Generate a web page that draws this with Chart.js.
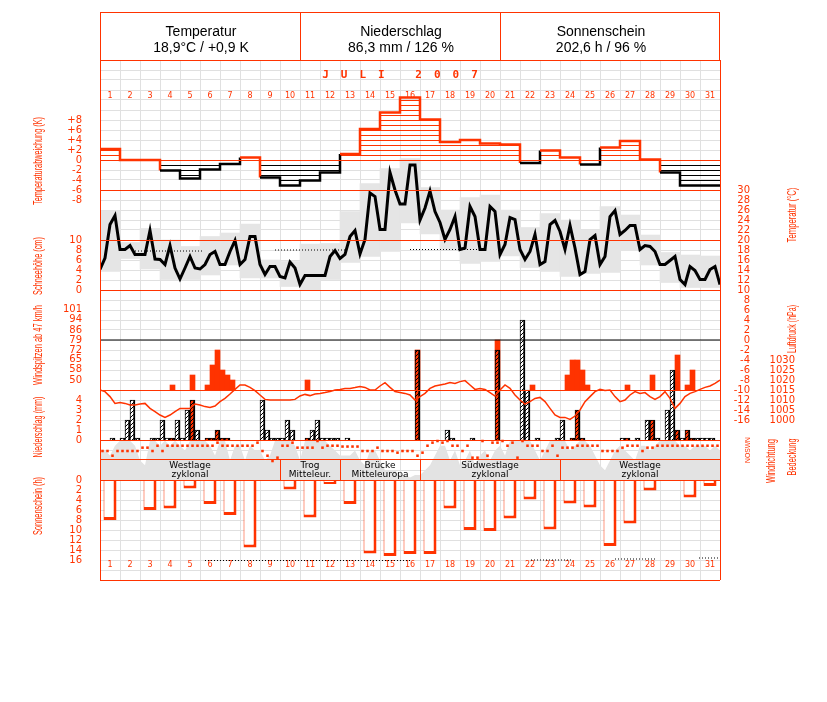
<!DOCTYPE html>
<html>
<head>
<meta charset="utf-8">
<script src="https://cdn.jsdelivr.net/npm/chart.js@4.4.1/dist/chart.umd.min.js"></script>
<style>
  body { margin: 0; background: #fff; }
  #wrap { position: relative; width: 827px; height: 702px; overflow: hidden; }
  #c { position: absolute; left: 0; top: 0; }
  .head { position: absolute; left: 100px; top: 12px; width: 620px; height: 48px; box-sizing: border-box;
          border: 1px solid #ff3300; border-bottom: none; }
  .cell { position: absolute; top: 0; width: 200px; height: 47px; text-align: center;
          font: 14px "Liberation Sans", Arial, sans-serif; line-height: 16px;
          padding-top: 10px; box-sizing: border-box; color: #000; }
  .sep { position: absolute; top: 0; width: 1px; height: 48px; background: #ff3300; }
  .title { position: absolute; left: 100px; top: 68px; width: 620px; text-align: center; color: #ff3300;
           font: bold 11px "DejaVu Sans Mono", monospace; letter-spacing: 12px; padding-right: 8px; box-sizing: border-box; }
  .vl { position: absolute; color: #ff3300; white-space: nowrap; line-height: 1; font-family: "Liberation Sans", Arial, sans-serif; }
</style>
</head>
<body>
<div id="wrap">
  <canvas id="c" width="827" height="702"></canvas>
  <div class="head">
    <div class="cell" style="left:0">Temperatur<br>18,9°C / +0,9 K</div>
    <div class="cell" style="left:200px">Niederschlag<br>86,3 mm / 126 %</div>
    <div class="cell" style="left:400px">Sonnenschein<br>202,6 h / 96 %</div>
    <div class="sep" style="left:199px"></div>
    <div class="sep" style="left:399px"></div>
  </div>
  <div class="title">JULI 2007</div>
</div>
<script>
const RED = '#ff3300';
const GRID = '#e0e0e0';

// ---------- data ----------
const DAYS = [1,2,3,4,5,6,7,8,9,10,11,12,13,14,15,16,17,18,19,20,21,22,23,24,25,26,27,28,29,30,31];

// daily temperature anomaly (K)
const ANOM = [2.2,0,0,-2.1,-3.7,-1.9,-0.8,0.5,-3.5,-5.1,-4.1,-2.5,1.2,6.2,9.5,12.5,
              8.1,3.6,4.0,3.3,3.1,-0.6,1.9,0.5,-0.9,2.5,3.8,0.1,-2.5,-5.1,-5.1];

// daily max / min temperature (°C)
const TMAX = [25.9,19.5,22.3,20.0,18.7,20.7,21.4,23.2,16.0,15.7,19.2,19.3,25.7,31.3,34.3,36.3,
              30.5,26.0,28.5,29.0,26.0,22.5,25.3,24.0,22.0,26.7,25.0,21.0,17.5,17.0,16.8];
const TMIN = [13.7,16.3,14.2,12.1,12.1,13.0,15.0,12.4,12.4,10.7,10.0,12.1,15.5,16.7,17.7,23.4,
              21.2,18.1,15.3,15.7,16.8,14.5,13.7,12.7,13.3,13.5,17.9,15.0,11.5,10.5,10.5];

// 6-hourly temperature (°C), 1st 00h .. 31st 24h
const TEMP6 = [
  14.1,16.4,23.1,24.9,18.1,18.1,18.9,17.1,17.1,17.1,
  21.9,16.2,16.1,15.1,18.9,14.4,12.2,14.4,16.7,14.4,
  14.2,15.1,17.1,17.7,15.1,15.1,17.7,19.9,15.1,16.1,
  20.7,20.7,15.1,13.1,14.7,14.7,12.7,12.4,15.6,14.4,
  11.1,12.9,12.9,12.9,12.9,12.9,16.7,17.9,16.3,17.1,
  20.7,21.9,17.2,20.1,29.4,28.7,22.1,22.1,33.5,30.0,
  27.2,27.2,35.0,35.0,24.0,26.4,29.8,25.7,23.5,20.1,
  22.1,24.7,18.1,18.4,26.7,24.7,18.1,18.1,26.7,25.7,
  17.1,19.1,24.5,24.1,18.1,16.1,17.7,21.1,15.1,15.7,
  23.1,23.9,21.7,18.1,22.9,18.4,13.1,13.7,20.1,20.9,
  15.1,16.7,24.7,25.9,21.1,21.9,22.9,22.9,18.1,18.9,
  18.7,17.7,15.1,15.1,15.9,16.7,12.1,11.1,14.7,13.9,
  12.1,12.1,14.1,14.7,11.1];

// dotted reference segments [from day, to day, value]
const TEMP_DOTS = [[1.75, 5.15, 17.8], [8.75, 12.25, 18.0], [15.5, 18.9, 18.1]];
const SUN_DOTS = [[5.25, 15.5, 16.1], [21.55, 23.6, 16.0], [25.75, 27.8, 15.8], [29.95, 31, 15.6]];

// 6-hourly precipitation (mm)
const PRECIP6 = [
  0,0,0.2,0,0.2,2.0,4.0,0.2,0,0,
  0.2,0.2,2.0,0.2,0.2,2.0,0.2,3.0,4.0,1.0,
  0,0.2,0.2,1.0,0.2,0.2,0,0,0,0,
  0,0,4.0,1.0,0.2,0.2,0.2,2.0,1.0,0,
  0,0.2,1.0,2.0,0.2,0.2,0.2,0.2,0,0.2,
  0,0,0,0,0,0,0,0,0,0,
  0,0,0,9.0,0,0,0,0,0,1.0,
  0.2,0,0,0,0.2,0,0,0,0,9.0,
  0,0,0,0,12.0,5.0,0,0.2,0,0,
  0,0.2,2.0,0,0.2,3.0,0.2,0,0,0,
  0,0,0,0,0.2,0.2,0,0.2,0,2.0,
  2.0,0.2,0,3.0,7.0,1.0,0.2,1.0,0.2,0.2,
  0.2,0.2,0.2,0];

// wind gusts >= 47 km/h: 6-hour slot index and value
const GUST_AT  = [14,18,21,22,23,24,25,26,41,63,79,86,93,94,95,96,97,105,110,115,117,118];
const GUST_KMH = [46.8,54,46.8,61.2,72,57.6,54,50.4,50.4,72,79.2,46.8,54,64.8,64.8,57.6,46.8,46.8,54,68.4,46.8,57.6];
const GUST_BASE = 43.2;
const GUST_LIMIT = 79.2;

// 6-hourly pressure (hPa)
const PRES6 = [
  1015.0,1014.2,1011.7,1008.3,1008.7,1008.3,1007.5,1007.5,1008.0,1008.3,
  1005.8,1004.2,1002.5,1001.3,1002.5,1004.2,1005.8,1005.8,1005.8,1008.0,
  1007.5,1006.7,1006.3,1007.0,1009.2,1010.8,1013.0,1015.3,1017.5,1017.5,
  1016.3,1014.7,1012.5,1010.3,1010.0,1010.0,1010.0,1010.0,1010.0,1010.3,
  1012.0,1012.8,1012.2,1013.0,1013.3,1013.7,1014.2,1015.0,1015.3,1015.8,
  1015.8,1016.2,1016.7,1016.3,1015.0,1015.0,1017.0,1018.7,1016.3,1014.2,
  1013.8,1013.3,1012.5,1010.0,1011.7,1013.3,1015.8,1017.0,1017.5,1018.0,
  1018.7,1018.3,1019.2,1019.7,1017.5,1015.3,1015.8,1015.3,1013.7,1012.0,
  1015.0,1017.5,1015.8,1012.5,1010.0,1008.0,1009.2,1010.8,1011.3,1009.2,
  1005.8,1002.5,1001.3,1001.3,1000.3,1002.0,1005.0,1009.2,1011.7,1014.2,
  1015.3,1014.7,1015.0,1011.7,1009.2,1010.0,1012.5,1014.2,1013.3,1013.7,
  1011.7,1010.3,1011.7,1014.2,1010.8,1005.8,1008.3,1011.7,1013.3,1014.2,
  1015.3,1016.3,1017.0,1018.3,1020.0];

// 6-hourly wind direction (degrees)
const DIR6 = [
  180,180,95,180,180,180,180,180,240,240,
  180,275,180,275,275,275,275,275,275,275,
  275,275,275,330,275,275,275,275,275,275,
  275,330,180,95,0,60,275,275,330,240,
  240,240,240,360,240,275,275,275,260,260,
  260,260,180,180,180,240,180,180,180,150,
  180,180,180,95,150,275,330,360,330,360,
  275,275,180,275,60,60,360,95,330,330,
  360,275,330,60,360,275,275,275,180,180,
  275,95,240,240,240,275,275,275,275,275,
  180,180,180,180,240,275,275,275,180,240,
  240,275,275,275,275,275,275,275,275,275,
  275,275,275,275];

// 6-hourly cloud cover (octas)
const COVER6 = [
  6,6,5,7,8,8,8,7,4,3,
  8,8,7,8,7,8,7,6,8,8,
  8,8,7,5,8,8,4,7,7,4,
  7,6,6,4,5,8,8,8,8,7,
  4,8,8,8,8,8,7,6,5,5,
  5,6,4,3,6,6,4,2,2,2,
  1,1,0.5,1,1,2,3,5,7,7,
  4,6,3,4,6,3,5,6,4,6,
  7,5,8,8,8,8,8,6,4,6,
  8,8,8,8,6,7,8,8,7,5,
  3,2,4,6,7,6,5,4,7,7,
  6,7,8,8,8,8,7,7,6,7,
  7,7,6,7,6];

// daily sunshine (h)
const SUN = [8.0,0,6.0,5.7,1.7,4.8,7.0,13.5,0,1.9,7.5,0.8,4.8,14.7,15.2,14.8,
             14.8,5.7,10.0,10.2,7.7,3.9,9.9,4.7,5.5,13.2,8.7,2.1,0,3.5,1.2];

// weather types
const WX_FROM = [0, 9, 12, 16, 23];
const WX_TO   = [9, 12, 16, 23, 31];
const WX_L1 = ['Westlage', 'Trog', 'Brücke', 'Südwestlage', 'Westlage'];
const WX_L2 = ['zyklonal', 'Mitteleur.', 'Mitteleuropa', 'zyklonal', 'zyklonal'];

// tick labels
const ANOM_TICKS = [8, 6, 4, 2, 0, -2, -4, -6, -8];
const SNOW_TICKS = [10, 8, 6, 4, 2, 0];
const TEMP_TICKS = [30,28,26,24,22,20,18,16,14,12,10,8,6,4,2,0,-2,-4,-6,-8,-10,-12,-14,-16];
const GUST_TICKS = [101, 94, 86, 79, 72, 65, 58, 50];
const PREC_TICKS = [4, 3, 2, 1, 0];
const PRES_TICKS = [1030, 1025, 1020, 1015, 1010, 1005, 1000];
const SUN_TICKS = [0, 2, 4, 6, 8, 10, 12, 14, 16];

// ---------- layout ----------
const TOP = 60, BOTTOM = 580;
const rowOf = y => (BOTTOM - y) / 10;
function band(v0, y0, px) { return { min: v0 - (BOTTOM - y0) / px, max: v0 + (y0 - TOP) / px }; }
function bandRev(v0, y0, px) { return { min: v0 - (y0 - TOP) / px, max: v0 + (BOTTOM - y0) / px, reverse: true }; }
const RED_ROWS = [60, 160, 190, 240, 290, 390, 440, 460, 480, 580].map(rowOf);
const LEFT_AT = -0.9, TEMP_AT = 32.5, PRES_AT = 34.75;
const TICK_FONT = { family: 'DejaVu Sans', size: 10 };
const DAY_FONT = { family: 'DejaVu Sans', size: 8 };

function hatch(line, bg, diag) {
  const c = document.createElement('canvas');
  const g = c.getContext('2d');
  c.width = 4; c.height = diag ? 4 : 5;
  if (bg) { g.fillStyle = bg; g.fillRect(0, 0, c.width, c.height); }
  g.fillStyle = line;
  if (diag) { for (let i = 0; i < 4; i++) g.fillRect(i, 3 - i, 1, 1); }
  else g.fillRect(0, 0, 4, 1);
  return g.createPattern(c, 'repeat');
}

function ticksAxis(range, values, at, fmt) {
  return Object.assign({
    type: 'linear', axis: 'y', position: { x: at },
    afterBuildTicks: ax => { ax.ticks = values.map(v => ({ value: v })); },
    grid: { display: false, drawTicks: false }, border: { display: false },
    ticks: { color: RED, font: TICK_FONT, autoSkip: false, padding: 0, callback: fmt || (v => v) }
  }, range);
}
function hidden(range) { return Object.assign({ type: 'linear', axis: 'y', display: false }, range); }
function dayAxis(row) {
  return {
    type: 'linear', axis: 'x', min: 0, max: 31, offset: false, position: { y: row },
    afterBuildTicks: ax => { ax.ticks = DAYS.map(d => ({ value: d - 0.5 })); },
    grid: { display: false, drawTicks: false }, border: { display: false },
    ticks: { color: RED, font: DAY_FONT, autoSkip: false, padding: 0, minRotation: 0, maxRotation: 0,
             callback: (v, i) => DAYS[i] }
  };
}
function segments(list) {
  const pts = [];
  list.forEach(([a, b, v]) => { pts.push({ x: a, y: v }, { x: b, y: v }, { x: b, y: null }); });
  return pts;
}

const slot = i => i / 4 + 0.125;
const gustFull = PRECIP6.map(() => null);
GUST_AT.forEach((k, i) => { gustFull[k] = GUST_KMH[i]; });

const hatchRed = hatch(RED, null, false);
const hatchBlack = hatch('#000', null, false);
const precWhite = hatch('#000', '#fff', true);
const precRed = hatch('#000', RED, true);

const wxPlugin = {
  id: 'wx',
  afterDraw(chart) {
    const { ctx, scales: { x, y } } = chart;
    const top = y.getPixelForValue(rowOf(460)), bot = y.getPixelForValue(rowOf(480));
    ctx.save();
    ctx.strokeStyle = RED; ctx.lineWidth = 1;
    ctx.fillStyle = '#000'; ctx.font = '9px "DejaVu Sans"';
    ctx.textAlign = 'center'; ctx.textBaseline = 'middle';
    WX_FROM.forEach((a, i) => {
      const x0 = x.getPixelForValue(a), x1 = x.getPixelForValue(WX_TO[i]);
      ctx.beginPath(); ctx.moveTo(Math.round(x1) + 0.5, top); ctx.lineTo(Math.round(x1) + 0.5, bot); ctx.stroke();
      const cx = (x0 + x1) / 2;
      ctx.fillText(WX_L1[i], cx, top + 6);
      ctx.fillText(WX_L2[i], cx, top + 14.5);
    });
    ctx.restore();
  }
};

new Chart(document.getElementById('c'), {
  type: 'line',
  data: {
    datasets: [
      { // cloud cover
        type: 'line', xAxisID: 'x', yAxisID: 'cover', order: 20,
        data: COVER6.map((v, i) => ({ x: i / 4, y: v })),
        borderWidth: 0, pointRadius: 0, fill: 'origin', backgroundColor: '#e3e3e3'
      },
      { // daily temperature range
        type: 'bar', xAxisID: 'x', yAxisID: 'temp', order: 19, grouped: false,
        data: TMAX.map((v, i) => ({ x: i + 0.5, y: [TMIN[i], v] })),
        backgroundColor: '#e5e5e5', barPercentage: 1, categoryPercentage: 1
      },
      { // temperature anomaly
        type: 'line', xAxisID: 'x', yAxisID: 'anom', order: 18,
        data: ANOM.map((v, i) => ({ x: i, y: v })).concat([{ x: ANOM.length, y: ANOM[ANOM.length - 1] }]),
        stepped: true, borderWidth: 2.5, pointRadius: 0, borderColor: RED,
        segment: { borderColor: c => c.p0.parsed.y >= 0 ? RED : '#000' },
        fill: { target: 'origin', above: hatchRed, below: hatchBlack }
      },
      { // gusts
        type: 'bar', xAxisID: 'xq', yAxisID: 'gust', order: 15, grouped: false,
        data: gustFull.map((v, i) => ({ x: slot(i), y: v == null ? null : [GUST_BASE, v] })),
        backgroundColor: RED, barPercentage: 1, categoryPercentage: 1
      },
      { // precipitation
        type: 'bar', xAxisID: 'xq', yAxisID: 'prec', order: 14, grouped: false,
        data: PRECIP6.map((v, i) => ({ x: slot(i), y: v || null })),
        backgroundColor: c => gustFull[c.dataIndex] ? precRed : precWhite,
        borderColor: '#000', borderSkipped: false,
        borderWidth: { left: 1, top: 1, right: 2, bottom: 0 },
        barPercentage: 1, categoryPercentage: 1
      },
      { // storm limit
        type: 'line', xAxisID: 'x', yAxisID: 'gust', order: 13,
        data: [{ x: 0, y: GUST_LIMIT }, { x: 31, y: GUST_LIMIT }],
        borderColor: '#000', borderWidth: 1, pointRadius: 0
      },
      { // pressure
        type: 'line', xAxisID: 'x', yAxisID: 'pres', order: 12,
        data: PRES6.map((v, i) => ({ x: i / 4, y: v })),
        borderColor: RED, borderWidth: 1.5, pointRadius: 0, tension: 0
      },
      { // temperature
        type: 'line', xAxisID: 'x', yAxisID: 'temp', order: 11,
        data: TEMP6.map((v, i) => ({ x: i / 4, y: v })),
        borderColor: '#000', borderWidth: 3, pointRadius: 0, tension: 0
      },
      {
        type: 'line', xAxisID: 'x', yAxisID: 'temp', order: 10,
        data: segments(TEMP_DOTS), borderColor: '#000', borderWidth: 1, borderDash: [1, 2], pointRadius: 0
      },
      { // wind direction
        type: 'line', xAxisID: 'x', yAxisID: 'dir', order: 9, showLine: false,
        data: DIR6.map((v, i) => ({ x: slot(i), y: v })),
        pointStyle: 'rect', pointRadius: 1.8, pointBackgroundColor: RED, pointBorderWidth: 0
      },
      { // sunshine
        type: 'bar', xAxisID: 'x', yAxisID: 'sun', order: 8, grouped: false,
        data: SUN.map((v, i) => ({ x: i + 0.5, y: v || null })),
        backgroundColor: '#fff', borderColor: RED, borderSkipped: false,
        borderWidth: { left: 1, top: 0, right: 3, bottom: 3 },
        barPercentage: 0.65, categoryPercentage: 1
      },
      {
        type: 'line', xAxisID: 'x', yAxisID: 'sun', order: 7,
        data: segments(SUN_DOTS), borderColor: '#000', borderWidth: 1, borderDash: [1, 2], pointRadius: 0
      }
    ]
  },
  options: {
    responsive: false, animation: false, devicePixelRatio: 1, events: [],
    layout: { padding: { left: 100, right: 107, top: TOP, bottom: 702 - BOTTOM } },
    plugins: { legend: { display: false }, tooltip: { enabled: false } },
    scales: {
      x: {
        type: 'linear', axis: 'x', position: 'bottom', min: 0, max: 31, offset: false,
        afterBuildTicks: ax => { ax.ticks = [0, ...DAYS].map(v => ({ value: v })); },
        ticks: { display: false }, grid: { color: GRID, drawTicks: false, offset: false }, border: { display: false }
      },
      xq: { type: 'linear', axis: 'x', display: false, min: 0, max: 31, offset: false, grid: { offset: false } },
      y: {
        type: 'linear', axis: 'y', position: 'left', min: 0, max: 52,
        afterBuildTicks: ax => { ax.ticks = Array.from({ length: 53 }, (_, i) => ({ value: i })); },
        ticks: { display: false }, grid: { color: GRID, drawTicks: false }, border: { display: false }
      },
      xr: {
        type: 'linear', axis: 'x', position: 'bottom', min: 0, max: 31, offset: false, z: 1,
        afterBuildTicks: ax => { ax.ticks = [{ value: 0 }, { value: 31 }]; },
        ticks: { display: false }, grid: { color: RED, drawTicks: false, offset: false, z: 1 }, border: { display: false }
      },
      yr: {
        type: 'linear', axis: 'y', position: 'left', min: 0, max: 52, z: 1,
        afterBuildTicks: ax => { ax.ticks = RED_ROWS.map(v => ({ value: v })); },
        ticks: { display: false }, grid: { color: RED, drawTicks: false, z: 1 }, border: { display: false }
      },
      dayTop: dayAxis(rowOf(91.5)),
      dayBot: dayAxis(rowOf(560.5)),
      anom: ticksAxis(band(0, 160, 5), ANOM_TICKS, LEFT_AT, v => v > 0 ? '+' + v : '' + v),
      snow: ticksAxis(band(0, 290, 5), SNOW_TICKS, LEFT_AT),
      temp: ticksAxis(band(10, 290, 5), TEMP_TICKS, TEMP_AT),
      gust: ticksAxis(band(GUST_BASE, 390, 10 / 7.2), GUST_TICKS, LEFT_AT),
      prec: ticksAxis(band(0, 440, 10), PREC_TICKS, LEFT_AT),
      pres: ticksAxis(band(1015, 390, 2), PRES_TICKS, PRES_AT),
      sun: ticksAxis(bandRev(0, 480, 5), SUN_TICKS, LEFT_AT),
      dir: hidden(band(0, 461, 20 / 360)),
      cover: hidden(band(0, 480, 4.9))
    }
  },
  plugins: [wxPlugin]
});

// rotated side labels
const SIDE = [
  ['Temperaturabweichung (K)', 37, 161, 88, 13],
  ['Schneehöhe (cm)', 37, 266, 58, 13],
  ['Windspitzen ab 47 km/h', 37, 345, 80, 13],
  ['Niederschlag (mm)', 37, 427, 61, 13],
  ['Sonnenschein (h)', 37, 506, 58, 13],
  ['Temperatur (°C)', 791, 215, 55, 13],
  ['Luftdruck (hPa)', 791, 329, 48, 13],
  ['Windrichtung', 770, 461, 44, 13],
  ['Bedeckung', 791, 457, 37, 13],
  ['NOSWN', 747, 450, 26, 7]
];
const wrap = document.getElementById('wrap');
SIDE.forEach(([t, cx, cy, len, size]) => {
  const d = document.createElement('div');
  d.className = 'vl';
  d.textContent = t;
  d.style.left = cx + 'px';
  d.style.top = cy + 'px';
  d.style.fontSize = size + 'px';
  wrap.appendChild(d);
  const w = d.offsetWidth;
  d.style.transform = 'translate(-50%,-50%) rotate(-90deg) scaleX(' + (len / w) + ')';
});
</script>
</body>
</html>
